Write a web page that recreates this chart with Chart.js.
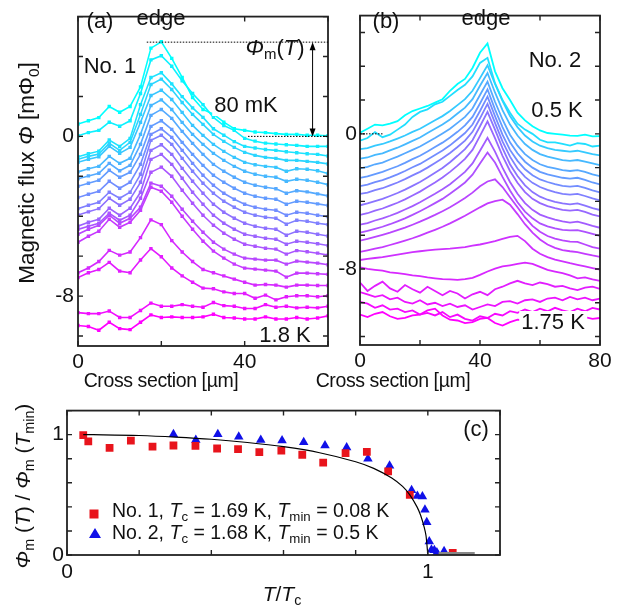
<!DOCTYPE html>
<html>
<head>
<meta charset="utf-8">
<script src="https://cdn.jsdelivr.net/npm/chart.js@4.4.1/dist/chart.umd.min.js"></script>
<style>
body { margin: 0; background: #fff; }
#fig { position: relative; width: 627px; height: 610px; overflow: hidden; font-family: "Liberation Sans", Arial, sans-serif; color: #111; }
canvas { position: absolute; }
.t { position: absolute; transform: translate(-50%, -50%); white-space: nowrap; font-size: 22px; line-height: 1; }
.ax { font-size: 19.5px; letter-spacing: -0.4px; }
.l { position: absolute; transform: translate(0, -50%); white-space: nowrap; font-size: 19.5px; line-height: 1; }
.bg { background: #fff; padding: 0 2px; }
.rot { transform: translate(-50%, -50%) rotate(-90deg); }
sub { font-size: 0.68em; position: relative; top: 0.3em; vertical-align: baseline; line-height: 0; }
.sq { position: absolute; width: 9px; height: 9px; background: #e8141c; transform: translate(-50%, -50%); }
.tri { position: absolute; width: 0; height: 0; border-left: 6px solid transparent; border-right: 6px solid transparent; border-bottom: 10px solid #1010e8; transform: translate(-50%, -50%); }
</style>
</head>
<body>
<div id="fig">
  <canvas id="ca" width="335" height="400" style="left:0;top:0"></canvas>
  <canvas id="cb" width="297" height="400" style="left:330px;top:0"></canvas>
  <canvas id="cc" width="627" height="215" style="left:0;top:395px"></canvas>

  <div class="t" style="left:100px;top:21px">(a)</div>
  <div class="t" style="left:161px;top:18px">edge</div>
  <div class="t" style="left:110px;top:66px">No. 1</div>
  <div class="t" style="left:275px;top:48px"><i>Φ</i><sub>m</sub>(<i>T</i>)</div>
  <div class="t bg" style="left:246px;top:105px">80 mK</div>
  <div class="t" style="left:285px;top:335px">1.8 K</div>
  <div class="t ax" style="left:161px;top:381px">Cross section [µm]</div>
  <div class="t rot" style="left:27px;top:173px;font-size:22.5px">Magnetic flux <i>Φ</i> [mΦ<sub>0</sub>]</div>

  <div class="t" style="left:386px;top:21px">(b)</div>
  <div class="t" style="left:486px;top:18px">edge</div>
  <div class="t" style="left:555px;top:60px">No. 2</div>
  <div class="t bg" style="left:557px;top:110px">0.5 K</div>
  <div class="t bg" style="left:553px;top:322px">1.75 K</div>
  <div class="t ax" style="left:393px;top:381px">Cross section [µm]</div>

  <div class="t" style="left:476px;top:429px">(c)</div>
  <div class="sq" style="left:94px;top:514px"></div>
  <div class="l" style="left:112px;top:511px">No. 1, <i>T</i><sub>c</sub> = 1.69 K, <i>T</i><sub>min</sub> = 0.08 K</div>
  <div class="tri" style="left:95px;top:533px"></div>
  <div class="l" style="left:112px;top:533px">No. 2, <i>T</i><sub>c</sub> = 1.68 K, <i>T</i><sub>min</sub> = 0.5 K</div>
  <div class="t" style="left:282px;top:593px;font-size:21px"><i>T</i>/<i>T</i><sub>c</sub></div>
  <div class="t rot" style="left:22px;top:486px;font-size:21px"><i>Φ</i><sub>m</sub> (<i>T</i>) / <i>Φ</i><sub>m</sub> (<i>T</i><sub>min</sub>)</div>
</div>

<script>
// (a) sample No. 1, points every 2.5 um, top (80 mK) to bottom (1.8 K)
const xA = [0,2.5,5,7.5,10,12.5,15,17.5,20,22.5,25,27.5,30,32.5,35,37.5,40,42.5,45,47.5,50,52.5,55,57.5,60];
const a01 = [0.62,0.78,0.94,1.50,1.21,1.50,2.48,4.42,4.74,3.91,2.95,1.95,1.35,1.11,0.71,0.38,0.30,0.22,0.19,0.14,0.10,0.10,0.06,0.06,0.03];
const a02 = [0.03,0.19,0.30,0.71,0.51,0.78,2.15,3.83,4.04,3.51,2.79,2.15,1.59,0.95,0.54,0.30,-0.10,-0.24,-0.34,-0.38,-0.42,-0.45,-0.50,-0.50,-0.50];
const a03 = [-1.02,-0.87,-0.74,-0.18,-0.50,-0.10,1.59,2.95,3.19,2.63,1.99,1.43,0.95,0.38,0.06,-0.26,-0.50,-0.58,-0.66,-0.70,-0.77,-0.82,-0.87,-0.90,-0.98];
const a04 = [-1.15,-1.00,-0.88,-0.35,-0.70,-0.30,1.10,2.60,2.87,2.35,1.70,1.10,0.60,0.10,-0.25,-0.55,-0.80,-0.95,-1.05,-1.10,-1.20,-1.20,-1.25,-1.30,-1.38];
const a05 = [-1.30,-1.15,-1.02,-0.50,-0.85,-0.55,0.70,2.05,2.31,1.85,1.20,0.55,0.05,-0.40,-0.75,-1.05,-1.30,-1.42,-1.50,-1.55,-1.75,-1.62,-1.65,-1.72,-1.86];
const a06 = [-1.78,-1.62,-1.50,-1.00,-1.35,-1.10,0.10,1.55,1.83,1.35,0.70,0.10,-0.40,-0.85,-1.20,-1.50,-1.75,-1.90,-2.00,-2.05,-2.25,-2.15,-2.20,-2.30,-2.42];
const a07 = [-2.12,-1.98,-1.85,-1.35,-1.72,-1.45,-0.40,1.05,1.35,0.90,0.25,-0.35,-0.90,-1.40,-1.75,-2.05,-2.30,-2.45,-2.55,-2.62,-2.85,-2.72,-2.78,-2.88,-2.98];
const a08 = [-2.50,-2.35,-2.20,-1.70,-2.05,-1.80,-0.90,0.50,0.78,0.35,-0.30,-0.90,-1.45,-1.95,-2.30,-2.60,-2.85,-3.00,-3.10,-3.15,-3.40,-3.25,-3.30,-3.38,-3.46];
const a09 = [-3.06,-2.90,-2.75,-2.25,-2.60,-2.30,-1.40,0.10,0.38,-0.05,-0.70,-1.35,-1.95,-2.45,-2.85,-3.15,-3.40,-3.55,-3.65,-3.70,-3.95,-3.80,-3.85,-3.95,-4.02];
const a10 = [-3.62,-3.45,-3.30,-2.80,-3.10,-2.80,-1.90,-0.20,0.06,-0.40,-1.10,-1.75,-2.35,-2.85,-3.25,-3.55,-3.80,-3.95,-4.05,-4.10,-4.40,-4.20,-4.25,-4.35,-4.42];
const a11 = [-3.94,-3.78,-3.62,-3.10,-3.45,-3.15,-2.30,-0.70,-0.42,-0.90,-1.60,-2.25,-2.85,-3.40,-3.80,-4.10,-4.35,-4.50,-4.60,-4.65,-4.95,-4.75,-4.80,-4.90,-4.99];
const a12 = [-4.50,-4.30,-4.15,-3.60,-3.95,-3.60,-2.80,-1.15,-0.90,-1.40,-2.10,-2.80,-3.40,-3.95,-4.35,-4.65,-4.90,-5.00,-5.10,-5.15,-5.40,-5.25,-5.30,-5.38,-5.47];
const a13 = [-4.66,-4.50,-4.35,-3.85,-4.20,-3.95,-3.10,-1.80,-1.54,-2.00,-2.70,-3.35,-3.95,-4.45,-4.85,-5.15,-5.40,-5.50,-5.60,-5.65,-5.90,-5.72,-5.78,-5.85,-5.95];
const a14 = [-4.90,-4.65,-4.45,-3.95,-4.35,-4.10,-3.55,-2.34,-2.50,-3.00,-3.65,-4.25,-4.80,-5.30,-5.65,-5.90,-6.10,-6.15,-6.20,-6.20,-6.40,-6.25,-6.30,-6.35,-6.43];
const a15 = [-5.30,-5.00,-4.75,-4.15,-4.55,-4.30,-3.70,-2.55,-2.75,-3.30,-4.00,-4.65,-5.25,-5.75,-6.10,-6.40,-6.60,-6.65,-6.70,-6.75,-7.05,-6.85,-6.85,-6.88,-6.91];
const a16 = [-6.83,-6.59,-6.27,-5.71,-5.95,-5.79,-5.07,-4.18,-4.42,-5.22,-5.79,-6.27,-6.67,-6.83,-6.99,-7.15,-7.31,-7.45,-7.42,-7.45,-7.55,-7.45,-7.45,-7.47,-7.47];
const a17 = [-7.07,-6.83,-6.67,-6.31,-6.75,-6.83,-6.19,-5.62,-6.03,-6.59,-6.99,-7.31,-7.60,-7.63,-7.79,-7.87,-7.87,-8.11,-7.95,-8.19,-8.03,-7.98,-7.98,-8.03,-7.98];
const a18 = [-8.83,-8.88,-8.88,-8.75,-9.07,-9.07,-8.72,-8.35,-8.51,-8.51,-8.43,-8.51,-8.56,-8.32,-8.48,-8.51,-8.62,-8.62,-8.43,-8.56,-8.51,-8.59,-8.56,-8.59,-8.51];
const a19 = [-9.47,-9.52,-9.71,-9.31,-9.63,-9.68,-9.31,-8.94,-9.07,-9.04,-9.07,-9.07,-9.04,-8.91,-9.07,-9.10,-9.15,-9.15,-9.04,-9.15,-9.15,-9.07,-9.15,-9.10,-8.99];
const seriesA = [a01,a02,a03,a04,a05,a06,a07,a08,a09,a10,a11,a12,a13,a14,a15,a16,a17,a18,a19];

// (b) sample No. 2, read every 2.5 um, top (0.5 K) to bottom (1.75 K)
const xB = [0,2.5,5,7.5,10,12.5,15,17.5,20,22.5,25,27.5,30,32.5,35,37.5,40,42.5,45,47.5,50,52.5,55,57.5,60,62.5,65,67.5,70,72.5,75,77.5,80];
const b01 = [0.06,0.30,0.55,0.50,0.60,0.75,1.10,1.35,1.50,1.65,1.85,2.05,2.55,2.95,3.25,3.90,4.80,5.35,3.70,2.70,2.00,1.25,0.80,0.45,0.20,0.05,0.00,-0.05,-0.10,-0.12,-0.05,-0.15,-0.13];
const b02 = [-0.40,-0.25,0.10,-0.20,-0.05,0.25,0.55,1.00,1.30,1.45,1.75,1.90,2.25,2.60,2.90,3.40,4.20,4.50,3.00,2.00,1.25,0.60,0.25,0.00,-0.35,-0.50,-0.50,-0.60,-0.70,-0.55,-0.60,-0.75,-0.70];
const b03 = [-0.90,-0.85,-0.70,-0.60,-0.45,-0.28,-0.10,0.12,0.30,0.55,0.80,1.05,1.35,1.70,2.05,2.55,3.30,4.06,2.95,1.95,1.05,0.40,-0.10,-0.45,-0.70,-0.85,-0.95,-1.00,-1.05,-1.00,-1.10,-1.20,-1.27];
const b04 = [-1.47,-1.40,-1.25,-1.15,-0.98,-0.82,-0.62,-0.42,-0.22,0.05,0.30,0.55,0.85,1.20,1.55,2.05,2.85,3.60,2.45,1.40,0.55,-0.10,-0.60,-0.95,-1.20,-1.35,-1.45,-1.55,-1.60,-1.55,-1.65,-1.75,-1.85];
const b05 = [-2.04,-1.95,-1.80,-1.70,-1.52,-1.35,-1.15,-0.95,-0.75,-0.50,-0.25,0.02,0.30,0.65,1.00,1.50,2.30,3.09,1.90,0.85,-0.05,-0.70,-1.20,-1.55,-1.80,-1.95,-2.05,-2.15,-2.20,-2.15,-2.25,-2.40,-2.51];
const b06 = [-2.61,-2.52,-2.38,-2.25,-2.08,-1.92,-1.72,-1.50,-1.30,-1.05,-0.78,-0.52,-0.22,0.12,0.50,1.00,1.80,2.63,1.45,0.40,-0.50,-1.15,-1.65,-2.00,-2.25,-2.40,-2.50,-2.60,-2.65,-2.60,-2.72,-2.88,-2.99];
const b07 = [-3.09,-3.00,-2.86,-2.74,-2.58,-2.40,-2.20,-1.98,-1.78,-1.52,-1.25,-0.98,-0.68,-0.32,0.05,0.55,1.35,2.20,1.05,-0.05,-0.95,-1.60,-2.10,-2.45,-2.70,-2.85,-2.98,-3.08,-3.12,-3.08,-3.20,-3.35,-3.47];
const b08 = [-3.56,-3.48,-3.33,-3.22,-3.05,-2.88,-2.68,-2.46,-2.25,-2.00,-1.72,-1.45,-1.13,-0.78,-0.40,0.12,0.92,1.77,0.65,-0.45,-1.35,-2.05,-2.55,-2.90,-3.15,-3.32,-3.45,-3.55,-3.60,-3.55,-3.68,-3.82,-3.94];
const b09 = [-4.23,-4.12,-3.98,-3.85,-3.68,-3.50,-3.30,-3.08,-2.85,-2.58,-2.30,-2.02,-1.68,-1.30,-0.90,-0.38,0.45,1.30,0.25,-0.85,-1.80,-2.50,-3.05,-3.45,-3.72,-3.90,-4.02,-4.12,-4.18,-4.12,-4.25,-4.40,-4.51];
const b10 = [-4.80,-4.70,-4.55,-4.42,-4.25,-4.08,-3.88,-3.65,-3.42,-3.15,-2.88,-2.58,-2.25,-1.88,-1.48,-0.95,-0.12,0.74,-0.25,-1.30,-2.20,-2.90,-3.45,-3.85,-4.10,-4.28,-4.40,-4.50,-4.55,-4.50,-4.62,-4.78,-4.89];
const b11 = [-5.37,-5.28,-5.13,-5.00,-4.85,-4.68,-4.48,-4.28,-4.05,-3.80,-3.55,-3.28,-2.98,-2.62,-2.25,-1.75,-1.00,-0.23,-1.05,-2.00,-2.85,-3.55,-4.10,-4.50,-4.78,-4.95,-5.08,-5.18,-5.25,-5.20,-5.32,-5.45,-5.56];
const b12 = [-5.85,-5.75,-5.62,-5.50,-5.35,-5.18,-5.00,-4.80,-4.58,-4.35,-4.10,-3.85,-3.55,-3.22,-2.88,-2.42,-1.75,-1.10,-1.70,-2.55,-3.35,-4.05,-4.60,-5.00,-5.30,-5.48,-5.60,-5.68,-5.72,-5.70,-5.80,-5.92,-6.04];
const b13 = [-6.32,-6.22,-6.10,-5.98,-5.85,-5.70,-5.55,-5.38,-5.20,-5.00,-4.80,-4.58,-4.35,-4.08,-3.80,-3.48,-3.10,-2.82,-2.69,-3.15,-3.75,-4.35,-4.95,-5.45,-5.80,-6.05,-6.20,-6.30,-6.38,-6.40,-6.55,-6.70,-6.80];
const b14 = [-6.99,-6.90,-6.80,-6.70,-6.58,-6.45,-6.32,-6.18,-6.02,-5.85,-5.68,-5.50,-5.30,-5.08,-4.85,-4.60,-4.35,-4.12,-3.98,-3.90,-4.20,-4.75,-5.35,-5.85,-6.25,-6.55,-6.75,-6.88,-6.95,-7.00,-7.10,-7.20,-7.28];
const b15 = [-7.47,-7.40,-7.35,-7.30,-7.22,-7.15,-7.08,-7.00,-6.95,-6.90,-6.85,-6.82,-6.80,-6.75,-6.70,-6.62,-6.55,-6.45,-6.35,-6.22,-6.10,-6.04,-6.35,-6.80,-7.10,-7.30,-7.45,-7.55,-7.66,-7.75,-7.85,-7.95,-8.04];
const b16 = [-7.90,-8.00,-8.05,-8.10,-8.20,-8.25,-8.30,-8.38,-8.42,-8.50,-8.55,-8.60,-8.62,-8.65,-8.60,-8.52,-8.35,-8.15,-7.98,-7.85,-7.78,-7.70,-7.62,-7.70,-7.88,-8.05,-8.15,-8.25,-8.38,-8.55,-8.50,-8.62,-8.70];
const b17 = [-8.80,-9.30,-9.00,-8.75,-9.15,-9.35,-8.95,-9.20,-9.40,-9.05,-9.30,-9.55,-9.30,-9.45,-9.75,-9.50,-9.35,-9.55,-9.20,-9.05,-8.85,-8.70,-8.85,-8.95,-8.80,-8.90,-9.05,-9.00,-9.15,-9.25,-9.10,-9.05,-9.18];
const b18 = [-9.37,-9.50,-9.65,-9.55,-9.80,-9.70,-9.95,-10.05,-9.85,-10.10,-10.00,-10.20,-10.05,-10.25,-10.15,-10.40,-10.25,-10.10,-10.20,-9.95,-9.90,-10.05,-9.85,-9.80,-9.95,-9.75,-9.70,-9.85,-9.65,-9.80,-9.70,-9.85,-9.75];
const b19 = [-9.94,-10.05,-10.30,-10.15,-10.40,-10.35,-10.55,-10.45,-10.70,-10.60,-10.75,-10.55,-10.85,-10.70,-10.95,-11.05,-10.80,-10.90,-10.65,-10.75,-10.50,-10.60,-10.40,-10.55,-10.35,-10.50,-10.30,-10.45,-10.55,-10.35,-10.50,-10.30,-10.40];
const b20 = [-10.70,-10.85,-10.65,-10.55,-10.80,-10.95,-10.90,-10.75,-10.70,-10.45,-10.35,-10.75,-11.00,-11.05,-11.20,-11.15,-10.95,-10.90,-11.20,-11.35,-11.15,-11.00,-11.05,-10.95,-11.10,-11.00,-10.95,-11.05,-10.90,-11.00,-10.85,-10.95,-10.90];
const seriesB = [b01,b02,b03,b04,b05,b06,b07,b08,b09,b10,b11,b12,b13,b14,b15,b16,b17,b18,b19,b20];

// (c) normalised peak height vs T/Tc
const tNo1 = [0.045,0.059,0.118,0.177,0.237,0.295,0.356,0.416,0.474,0.533,0.594,0.652,0.710,0.772,0.831,0.890,0.950,1.069];
const phiNo1 = [0.997,0.945,0.890,0.950,0.900,0.910,0.906,0.885,0.880,0.854,0.867,0.833,0.768,0.846,0.857,0.695,0.500,0.018];
const tNo2 = [0.295,0.357,0.418,0.476,0.537,0.596,0.656,0.715,0.775,0.834,0.894,0.955,0.971,0.985,0.992,0.997,1.004,1.010,1.018,1.025,1.027,1.045];
const phiNo2 = [1.003,0.956,1.003,0.982,0.956,0.951,0.938,0.911,0.893,0.799,0.742,0.539,0.490,0.487,0.377,0.273,0.112,0.044,0.039,0.020,0.005,0.031];
const tFit = [0.045,0.1,0.2,0.3,0.4,0.5,0.6,0.7,0.8,0.85,0.9,0.93,0.95,0.97,0.98,0.99,0.995,1.0];
const phiFit = [1.0,0.999,0.993,0.98,0.962,0.935,0.9,0.85,0.775,0.72,0.64,0.57,0.5,0.4,0.33,0.23,0.16,0.0];
const tGrey = [1.03,1.13];
const phiGrey = [0.012,0.012];

const xTicksA = [0,20,40,60], xLabA = [0,40];
const yTicksA = [-10,-8,-6,-4,-2,0,2,4,6], yLabA = [0,-8];
const xTicksB = [0,20,40,60,80], xLabB = [0,40,80];
const yTicksB = [-12,-10,-8,-6,-4,-2,0,2,4,6], yLabB = [0,-8];
const ticksC = [0,0.2,0.4,0.6,0.8,1.0,1.2], labC = [0,1];

Chart.defaults.font.family = "'Liberation Sans', Arial, sans-serif";
Chart.defaults.color = '#111';

function cool(t) {
  return 'rgb(' + Math.round(255 * t) + ',' + Math.round(255 * (1 - t)) + ',255)';
}

function axis(min, max, ticks, shown, pad, fit) {
  return {
    type: 'linear', min: min, max: max,
    grid: { display: false, drawTicks: false },
    border: { display: false },
    afterBuildTicks: function (s) { s.ticks = ticks.map(v => ({ value: v })); },
    afterFit: fit,
    ticks: {
      autoSkip: false, maxRotation: 0, padding: pad,
      font: { size: 21 },
      callback: function (v) {
        const u = shown.find(w => Math.abs(w - v) < 1e-6);
        return u === undefined ? '' : String(u);
      }
    }
  };
}

// inward ticks on all four sides and the box
const frame = {
  id: 'frame',
  afterDatasetsDraw(chart) {
    const ctx = chart.ctx, a = chart.chartArea;
    ctx.save();
    ctx.strokeStyle = '#222';
    ctx.lineWidth = 1.4;
    chart.scales.x.ticks.forEach(t => {
      const p = chart.scales.x.getPixelForValue(t.value);
      ctx.beginPath();
      ctx.moveTo(p, a.bottom); ctx.lineTo(p, a.bottom - 5);
      ctx.moveTo(p, a.top); ctx.lineTo(p, a.top + 5);
      ctx.stroke();
    });
    chart.scales.y.ticks.forEach(t => {
      const p = chart.scales.y.getPixelForValue(t.value);
      ctx.beginPath();
      ctx.moveTo(a.left, p); ctx.lineTo(a.left + 5, p);
      ctx.moveTo(a.right, p); ctx.lineTo(a.right - 5, p);
      ctx.stroke();
    });
    ctx.lineWidth = 1.8;
    ctx.strokeRect(a.left, a.top, a.right - a.left, a.bottom - a.top);
    ctx.restore();
  }
};

function dotted(ctx, x1, y1, x2, y2) {
  ctx.save();
  ctx.setLineDash([1.5, 1.5]);
  ctx.lineWidth = 1;
  ctx.strokeStyle = '#000';
  ctx.beginPath(); ctx.moveTo(x1, y1); ctx.lineTo(x2, y2); ctx.stroke();
  ctx.restore();
}

// Phi_m(T) marker in panel (a)
const markA = {
  id: 'markA',
  afterDatasetsDraw(chart) {
    const ctx = chart.ctx, sx = chart.scales.x, sy = chart.scales.y;
    const yTop = sy.getPixelForValue(4.72), yZero = sy.getPixelForValue(0);
    dotted(ctx, sx.getPixelForValue(16.5), yTop, sx.getPixelForValue(60), yTop);
    dotted(ctx, sx.getPixelForValue(40.8), yZero, sx.getPixelForValue(60), yZero);
    const xa = sx.getPixelForValue(56.3);
    ctx.save();
    ctx.strokeStyle = '#000'; ctx.fillStyle = '#000'; ctx.lineWidth = 1;
    ctx.beginPath(); ctx.moveTo(xa, yTop + 2); ctx.lineTo(xa, yZero - 2); ctx.stroke();
    ctx.beginPath(); ctx.moveTo(xa, yTop); ctx.lineTo(xa - 3, yTop + 8); ctx.lineTo(xa + 3, yTop + 8); ctx.closePath(); ctx.fill();
    ctx.beginPath(); ctx.moveTo(xa, yZero); ctx.lineTo(xa - 3, yZero - 8); ctx.lineTo(xa + 3, yZero - 8); ctx.closePath(); ctx.fill();
    ctx.restore();
  }
};

const markB = {
  id: 'markB',
  afterDatasetsDraw(chart) {
    const sx = chart.scales.x, sy = chart.scales.y;
    const y0 = sy.getPixelForValue(0);
    dotted(chart.ctx, sx.getPixelForValue(0), y0, sx.getPixelForValue(8), y0);
  }
};

const dsA = seriesA.map((arr, i) => {
  const c = cool(i / (seriesA.length - 1));
  return {
    data: arr.map((v, j) => ({ x: xA[j], y: v })),
    borderColor: c, backgroundColor: c, borderWidth: 1.6,
    pointStyle: 'rect', pointRadius: 2.4, pointBorderWidth: 0, pointBackgroundColor: c
  };
});

const dsB = seriesB.map((arr, i) => {
  const c = cool(Math.pow(i / (seriesB.length - 1), 0.7));
  return {
    data: arr.map((v, j) => ({ x: xB[j], y: v })),
    borderColor: c, borderWidth: 1.8, pointRadius: 0
  };
});

new Chart(document.getElementById('ca'), {
  type: 'line',
  data: { datasets: dsA },
  options: {
    responsive: false, animation: false, devicePixelRatio: 1,
    layout: { padding: { left: 0, right: 7, top: 4, bottom: 0 } },
    plugins: { legend: { display: false }, tooltip: { enabled: false } },
    scales: {
      x: axis(0, 60, xTicksA, xLabA, 4, s => { s.height = 54; }),
      y: axis(-10.5, 6, yTicksA, yLabA, 4, s => { s.width = 78; })
    }
  },
  plugins: [frame, markA]
});

new Chart(document.getElementById('cb'), {
  type: 'line',
  data: { datasets: dsB },
  options: {
    responsive: false, animation: false, devicePixelRatio: 1,
    layout: { padding: { left: 0, right: 27, top: 4, bottom: 0 } },
    plugins: { legend: { display: false }, tooltip: { enabled: false } },
    scales: {
      x: axis(0, 80, xTicksB, xLabB, 4, s => { s.height = 55; }),
      y: axis(-12.5, 7, yTicksB, yLabB, 3, s => { s.width = 30; })
    }
  },
  plugins: [frame, markB]
});

new Chart(document.getElementById('cc'), {
  type: 'line',
  data: {
    datasets: [
      { data: tGrey.map((t, i) => ({ x: t, y: phiGrey[i] })), borderColor: '#888', borderWidth: 3, pointRadius: 0 },
      { data: tFit.map((t, i) => ({ x: t, y: phiFit[i] })), borderColor: '#000', borderWidth: 1.2, pointRadius: 0, tension: 0.3 },
      { data: tNo1.map((t, i) => ({ x: t, y: phiNo1[i] })), showLine: false, pointStyle: 'rect', pointRadius: 5.5, pointBorderWidth: 0, pointBackgroundColor: '#e8141c' },
      { data: tNo2.map((t, i) => ({ x: t, y: phiNo2[i] })), showLine: false, pointStyle: 'triangle', pointRadius: 5.5, pointBorderWidth: 0, pointBackgroundColor: '#1010e8' }
    ]
  },
  options: {
    responsive: false, animation: false, devicePixelRatio: 1,
    layout: { padding: { left: 0, right: 127, top: 7, bottom: 0 } },
    plugins: { legend: { display: false }, tooltip: { enabled: false } },
    scales: {
      x: axis(0, 1.2, ticksC, labC, 5, s => { s.height = 55; }),
      y: axis(0, 1.2, ticksC, labC, 3, s => { s.width = 67; })
    }
  },
  plugins: [frame]
});
</script>
</body>
</html>
